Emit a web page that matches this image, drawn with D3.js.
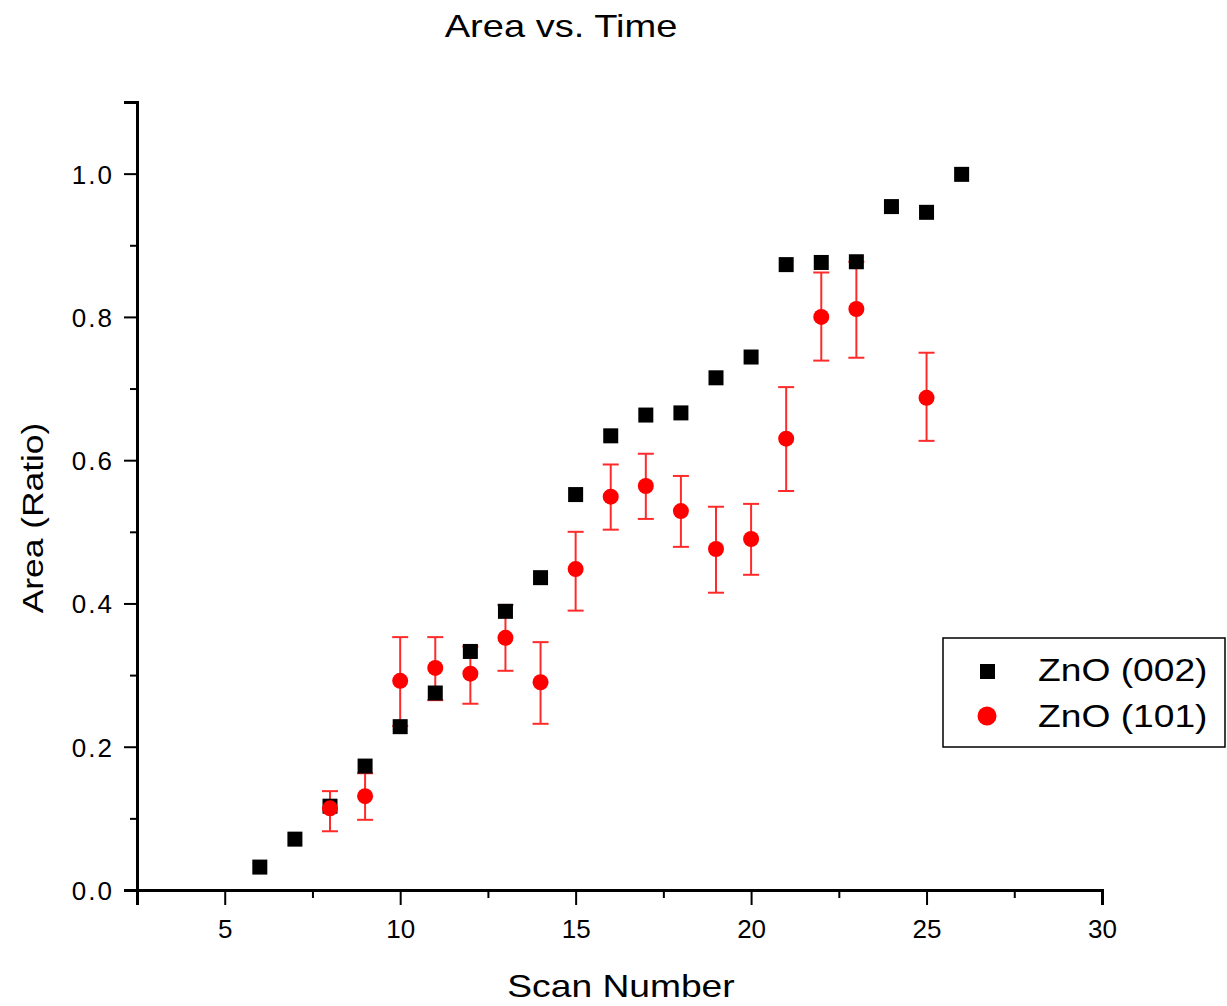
<!DOCTYPE html>
<html>
<head>
<meta charset="utf-8">
<script src="https://cdn.jsdelivr.net/npm/d3@7"></script>
<style>
  body { margin: 0; background: #fff; }
  text { font-family: "Liberation Sans", Arial, sans-serif; }
</style>
</head>
<body>
<svg id="chart"></svg>
<script>
// ZnO (002) - black squares
var scan002 = [6, 7, 8, 9, 10, 11, 12, 13, 14, 15, 16, 17, 18, 19, 20, 21, 22, 23, 24, 25, 26];
var area002 = [0.032, 0.071, 0.117, 0.173, 0.228, 0.275, 0.333, 0.389, 0.436, 0.552, 0.634, 0.663, 0.666, 0.715, 0.744, 0.873, 0.876, 0.877, 0.954, 0.946, 0.999];

// ZnO (101) - red circles with error bars
var scan101 = [8, 9, 10, 11, 12, 13, 14, 15, 16, 17, 18, 19, 20, 21, 22, 23, 25];
var area101 = [0.114, 0.131, 0.292, 0.310, 0.302, 0.352, 0.290, 0.448, 0.549, 0.564, 0.529, 0.476, 0.490, 0.630, 0.800, 0.811, 0.687];
var errHi101 = [0.138, 0.163, 0.353, 0.353, 0.340, 0.398, 0.346, 0.500, 0.594, 0.609, 0.578, 0.535, 0.539, 0.702, 0.862, 0.877, 0.750];
var errLo101 = [0.082, 0.098, 0.229, 0.265, 0.260, 0.306, 0.232, 0.390, 0.503, 0.518, 0.479, 0.415, 0.440, 0.557, 0.739, 0.743, 0.627];

var xTicks = [5, 10, 15, 20, 25, 30];
var xMinor = [2.5, 7.5, 12.5, 17.5, 22.5, 27.5];
var yTicks = [0, 0.2, 0.4, 0.6, 0.8, 1.0];
var yMinor = [0.1, 0.3, 0.5, 0.7, 0.9, 1.1];

var screen = { width: 1227, height: 1006 };
var margins = { top: 102, left: 137, right: 125, bottom: 116 };
var width = screen.width - margins.left - margins.right;
var height = screen.height - margins.top - margins.bottom;

var xScale = d3.scaleLinear().domain([2.5, 30]).range([0, width]);
var yScale = d3.scaleLinear().domain([0, 1.1]).range([height, 0]);

var svg = d3.select("#chart")
  .attr("width", screen.width)
  .attr("height", screen.height);

// the original text is rendered wide, so stretch it a bit along its run
var wideText = function(parent, x, y, rot, sx, size, anchor, str)
{
  return parent.append("text")
    .attr("transform", "translate(" + x + "," + y + ") rotate(" + rot + ") scale(" + sx + ",1)")
    .attr("text-anchor", anchor)
    .attr("font-size", size)
    .attr("fill", "#000")
    .text(str);
};

// title
wideText(svg, 561, 37, 0, 1.19, 32, "middle", "Area vs. Time");

var plot = svg.append("g")
  .attr("transform", "translate(" + margins.left + "," + margins.top + ")");

// axes
var xAxis = d3.axisBottom(xScale).tickValues(xTicks).tickSize(15).tickPadding(15)
  .tickFormat(d3.format("d"));
var xMinorAxis = d3.axisBottom(xScale).tickValues(xMinor).tickSize(8).tickFormat("");
var yAxis = d3.axisLeft(yScale).tickValues(yTicks).tickSize(13).tickPadding(10)
  .tickFormat(d3.format(".1f"));
var yMinorAxis = d3.axisLeft(yScale).tickValues(yMinor).tickSize(7).tickFormat("");

var gx = plot.append("g").attr("transform", "translate(0," + height + ")").call(xAxis);
plot.append("g").attr("transform", "translate(0," + height + ")").call(xMinorAxis);
var gy = plot.append("g").call(yAxis);
plot.append("g").call(yMinorAxis);

plot.selectAll(".domain").attr("stroke", "#000").attr("stroke-width", 3);
plot.selectAll(".tick line").attr("stroke", "#000").attr("stroke-width", 2);
gx.selectAll(".tick text").attr("font-size", 26).attr("fill", "#000")
  .attr("font-family", "Liberation Sans, Arial, sans-serif");
gy.selectAll(".tick text").attr("font-size", 26).attr("fill", "#000")
  .attr("letter-spacing", 2)
  .attr("font-family", "Liberation Sans, Arial, sans-serif").attr("dy", "0.36em");

// axis titles
wideText(svg, 621, 997, 0, 1.2, 31, "middle", "Scan Number");
wideText(svg, 43, 518, -90, 1.22, 29, "middle", "Area (Ratio)");

// red error bars
var red = scan101.map(function(s, i) {
  return { x: s, y: area101[i], hi: errHi101[i], lo: errLo101[i] };
});
var black = scan002.map(function(s, i) {
  return { x: s, y: area002[i] };
});

var capW = 8;
var errG = plot.append("g").attr("stroke", "#ff2a2a").attr("stroke-width", 2);
errG.selectAll("line.v").data(red).enter().append("line")
  .attr("x1", function(d) { return xScale(d.x); })
  .attr("x2", function(d) { return xScale(d.x); })
  .attr("y1", function(d) { return yScale(d.hi); })
  .attr("y2", function(d) { return yScale(d.lo); });
errG.selectAll("line.t").data(red).enter().append("line")
  .attr("x1", function(d) { return xScale(d.x) - capW; })
  .attr("x2", function(d) { return xScale(d.x) + capW; })
  .attr("y1", function(d) { return yScale(d.hi); })
  .attr("y2", function(d) { return yScale(d.hi); });
errG.selectAll("line.b").data(red).enter().append("line")
  .attr("x1", function(d) { return xScale(d.x) - capW; })
  .attr("x2", function(d) { return xScale(d.x) + capW; })
  .attr("y1", function(d) { return yScale(d.lo); })
  .attr("y2", function(d) { return yScale(d.lo); });

// black squares
var sq = 15;
plot.selectAll("rect.sq").data(black).enter().append("rect")
  .attr("x", function(d) { return xScale(d.x) - sq / 2; })
  .attr("y", function(d) { return yScale(d.y) - sq / 2; })
  .attr("width", sq).attr("height", sq)
  .attr("fill", "#000");

// red circles
plot.selectAll("circle.pt").data(red).enter().append("circle")
  .attr("cx", function(d) { return xScale(d.x); })
  .attr("cy", function(d) { return yScale(d.y); })
  .attr("r", 8)
  .attr("fill", "#ff0000");

// legend
var leg = svg.append("g");
leg.append("rect")
  .attr("x", 943).attr("y", 638).attr("width", 282).attr("height", 109)
  .attr("fill", "#fff").attr("stroke", "#000").attr("stroke-width", 1.5);
leg.append("rect")
  .attr("x", 980).attr("y", 664).attr("width", 15).attr("height", 15).attr("fill", "#000");
leg.append("circle")
  .attr("cx", 987).attr("cy", 716).attr("r", 9.5).attr("fill", "#ff0000");
wideText(leg, 1038, 681, 0, 1.2, 31, "start", "ZnO (002)");
wideText(leg, 1038, 727, 0, 1.2, 31, "start", "ZnO (101)");
</script>
</body>
</html>
